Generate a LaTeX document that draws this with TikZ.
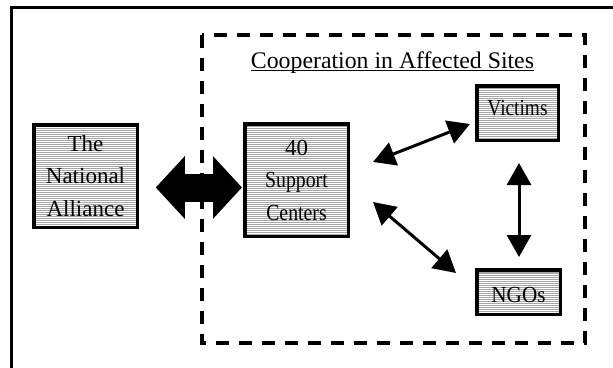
\documentclass[tikz,border=0pt]{standalone}
\usepackage{fontspec}
\setmainfont{Liberation Serif}
\usetikzlibrary{arrows.meta,patterns.meta,calc}
% horizontally condensed text and a raise that keeps the box size
\newcommand\narrowto[2]{\scalebox{#1}[1]{#2}}
\newcommand\liftby[2]{\raisebox{#1}[\height][\depth]{#2}}

\begin{document}
\begin{tikzpicture}[x=1pt,y=-1pt,
  frame/.style={line width=3pt},
  site/.style={line width=3.5pt, dash pattern=on 13pt off 10pt},
  unit/.style={draw, line width=3.5pt,
    pattern={Lines[distance=2pt,line width=1pt]}, pattern color=gray!70,
    align=center, inner sep=0pt, font=\fontsize{23}{32.5}\selectfont},
  link/.style={line width=3pt,
    {Triangle[length=22pt,width=24pt]}-{Triangle[length=22pt,width=24pt]}},
  bigarrow/.style={line width=28pt,
    {Triangle[length=29pt,width=61pt]}-{Triangle[length=29pt,width=61pt]}}]
\useasboundingbox (0,0) rectangle (613,367);
\fill[white] (0,0) rectangle (613,367);

% outer frame (top and left edges)
\draw[frame] (11,380) -- (11,7.5) -- (630,7.5);

% dashed region of the affected sites
\draw[site] (202,35) rectangle (585,343);
\node[anchor=base, inner sep=0pt, font=\fontsize{23.8}{28}\selectfont] (title)
  at (392.5,68) {Cooperation in Affected Sites};
\draw[line width=1.3pt] ([yshift=-2.5pt]title.base west) -- ([yshift=-2.5pt]title.base east);

% organisations
\node[unit, minimum width=103.5pt, minimum height=102.5pt] (na) at (85.5,176)
  {The\\National\\Alliance};
\node[unit, minimum width=103.5pt, minimum height=112.5pt] (sc) at (296.5,180)
  {40\\\narrowto{0.86}{Support}\\\narrowto{0.86}{Centers}};
\node[unit, minimum width=81.5pt, minimum height=54.5pt] (vic) at (517.5,113)
  {\liftby{5pt}{\narrowto{0.84}{Victims}}};
\node[unit, minimum width=83.5pt, minimum height=44.5pt] (ngo) at (518.5,292)
  {\liftby{-3pt}{\narrowto{0.92}{NGOs}}};

% connections
\draw[bigarrow] ([shift={(18,11.5)}]na.east) -- ([shift={(-1,7.5)}]sc.west);

\coordinate (scV) at ($(sc.east)+(23,-18)$);
\coordinate (vicW) at ($(vic.west)+(-5,11)$);
\coordinate (scN) at ($(sc.east)+(23,22)$);
\coordinate (ngoW) at ($(ngo.north west)+(-19,5)$);
\draw[link] (scV) -- (vicW);
\draw[link] (scN) -- (ngoW);
\draw[link] ([shift={(1.5,21)}]vic.south) -- ([shift={(0.5,-11)}]ngo.north);
\end{tikzpicture}
\end{document}
